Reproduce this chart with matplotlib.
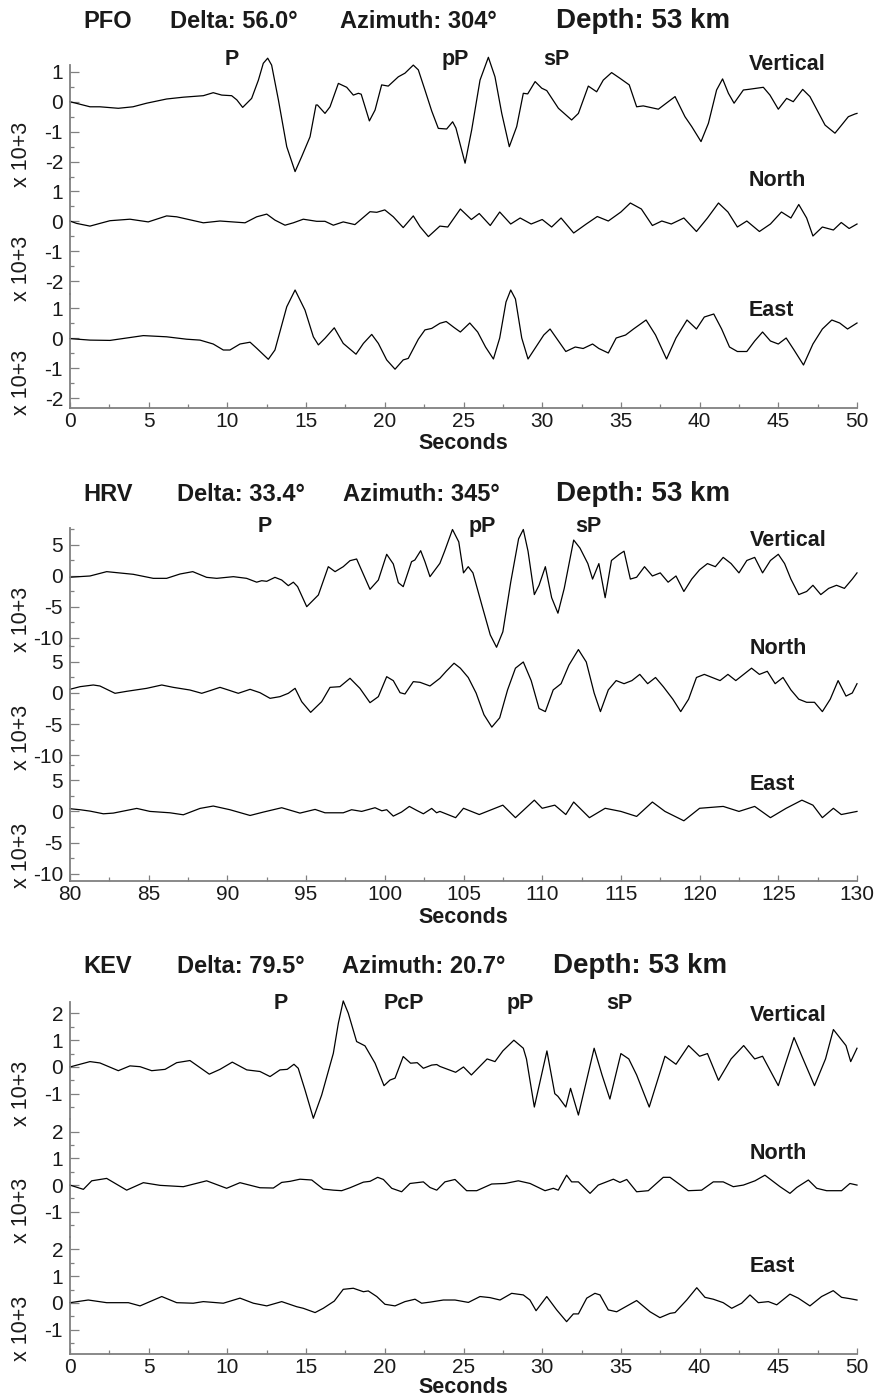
import matplotlib
matplotlib.use("Agg")
import matplotlib.pyplot as plt
import matplotlib.transforms as mtransforms
from matplotlib.ticker import MultipleLocator

plt.rcParams['font.family'] = ['Liberation Sans', 'DejaVu Sans']
plt.rcParams['axes.unicode_minus'] = False

FIG_W, FIG_H = 876, 1399

STATIONS = ["PFO", "HRV", "KEV"]
DELTAS = ["56.0", "33.4", "79.5"]
AZIMUTHS = ["304", "345", "20.7"]
DEPTH_KM = 53
COMPONENTS = ["Vertical", "North", "East"]
X_RANGES = [(0, 50), (80, 130), (0, 50)]
Y_UNITS = ["x 10+3", "x 10+3", "x 10+3"]

PFO_PHASES = ["P", "pP", "sP"]
PFO_PHASE_T = [10.26, 24.5, 30.9]
HRV_PHASES = ["P", "pP", "sP"]
HRV_PHASE_T = [92.4, 106.2, 112.9]
KEV_PHASES = ["P", "PcP", "pP", "sP"]
KEV_PHASE_T = [13.4, 21.2, 28.6, 34.9]

# traces: (seconds, amplitude in units of 10^3)
PFO_Z = [(0, 0.01), (1.27, -0.16), (1.9, -0.16), (3.07, -0.21), (4.0, -0.16),
         (4.87, -0.04), (6.14, 0.1), (7.2, 0.16), (8.47, 0.21), (9.1, 0.31),
         (9.64, 0.23), (10.27, 0.21), (10.6, 0.07), (10.97, -0.18), (11.54, 0.12),
         (11.97, 0.73), (12.28, 1.29), (12.56, 1.46), (12.81, 1.23), (13.24, 0.07),
         (13.77, -1.49), (14.3, -2.32), (14.72, -1.82), (15.25, -1.16), (15.63, -0.1),
         (15.72, -0.1), (16.2, -0.38), (16.52, -0.16), (17.05, 0.62), (17.58, 0.49),
         (18.0, 0.23), (18.32, 0.29), (18.5, 0.26), (19.02, -0.63), (19.38, -0.27),
         (19.8, 0.57), (20.22, 0.53), (20.86, 0.84), (21.28, 0.96), (21.81, 1.23),
         (22.13, 1.07), (22.55, 0.4), (22.98, -0.3), (23.4, -0.88), (23.93, -0.9),
         (24.31, -0.66), (24.52, -0.87), (25.1, -2.04), (25.52, -0.93), (26.05, 0.73),
         (26.58, 1.49), (27.0, 0.84), (27.43, -0.38), (27.91, -1.49), (28.38, -0.82),
         (28.8, 0.29), (29.08, 0.27), (29.55, 0.68), (29.97, 0.46), (30.29, 0.38),
         (31.03, -0.21), (31.87, -0.6), (32.3, -0.38), (32.93, 0.53), (33.46, 0.34),
         (33.88, 0.73), (34.41, 0.98), (34.94, 0.79), (35.53, 0.57), (36.0, -0.16),
         (36.42, -0.13), (37.38, -0.24), (38.01, 0.01), (38.44, 0.18), (39.07, -0.49),
         (39.5, -0.82), (40.09, -1.32), (40.56, -0.71), (41.08, 0.4), (41.46, 0.77),
         (41.83, 0.29), (42.19, -0.04), (42.78, 0.4), (43.1, 0.42), (44.05, 0.49),
         (44.47, 0.23), (45.0, -0.24), (45.53, 0.12), (45.95, 0.01), (46.55, 0.42),
         (47.01, 0.18), (47.97, -0.77), (48.6, -1.04), (49.02, -0.77), (49.45, -0.49),
         (49.87, -0.4), (50.0, -0.38)]
PFO_N = [(0, 0), (0.42, -0.08), (1.27, -0.17), (1.9, -0.08), (2.54, 0.01),
         (3.81, 0.06), (4.97, -0.03), (6.14, 0.17), (6.78, 0.14), (8.47, -0.06),
         (9.53, 0), (10.59, -0.04), (11.12, -0.06), (11.86, 0.14), (12.5, 0.23),
         (13.02, 0.03), (13.66, -0.14), (14.19, -0.06), (14.82, 0.06), (15.67, -0.01),
         (16.2, -0.01), (16.73, -0.14), (17.36, -0.03), (18.1, -0.12), (19.06, 0.31),
         (19.49, 0.29), (20.0, 0.37), (20.54, 0.14), (21.17, -0.22), (21.81, 0.17),
         (22.24, -0.19), (22.77, -0.52), (23.5, -0.17), (24.0, -0.2), (24.8, 0.4),
         (25.5, 0.05), (26.0, 0.25), (26.7, -0.15), (27.3, 0.3), (28.0, -0.1),
         (28.6, 0.1), (29.3, -0.1), (30.0, 0.05), (30.6, -0.2), (31.2, 0.1),
         (32.0, -0.4), (32.8, -0.1), (33.5, 0.15), (34.2, 0.0), (35.0, 0.3),
         (35.6, 0.6), (36.3, 0.4), (37.0, -0.15), (37.6, 0.0), (38.2, -0.1),
         (39.0, 0.1), (39.8, -0.35), (40.5, 0.1), (41.2, 0.6), (41.8, 0.3),
         (42.4, -0.2), (43.0, 0.0), (43.8, -0.35), (44.5, -0.1), (45.2, 0.3),
         (45.8, 0.1), (46.3, 0.55), (46.8, 0.1), (47.2, -0.5), (47.8, -0.2),
         (48.5, -0.3), (49.0, -0.05), (49.5, -0.25), (50.0, -0.1)]
PFO_E = [(0, -0.02), (1.27, -0.07), (2.54, -0.08), (4.66, 0.08), (6.14, 0.04),
         (7.41, -0.04), (8.26, -0.07), (9.1, -0.2), (9.74, -0.4), (10.16, -0.4),
         (10.8, -0.2), (11.44, -0.14), (11.86, -0.34), (12.6, -0.71), (13.02, -0.4),
         (13.77, 1.04), (14.3, 1.6), (14.93, 0.93), (15.46, 0.04), (15.78, -0.23),
         (16.2, -0.01), (16.79, 0.34), (17.36, -0.18), (18.17, -0.54), (18.64, -0.18),
         (19.17, 0.12), (19.59, -0.18), (20.12, -0.73), (20.65, -1.04), (21.17, -0.73),
         (21.49, -0.68), (22.13, -0.04), (22.55, 0.27), (22.98, 0.32), (23.5, 0.49),
         (23.9, 0.55), (24.4, 0.35), (24.8, 0.2), (25.4, 0.5), (25.9, 0.2),
         (26.4, -0.3), (26.9, -0.7), (27.3, 0.0), (27.7, 1.2), (28.0, 1.6),
         (28.3, 1.3), (28.7, 0.0), (29.1, -0.7), (29.6, -0.3), (30.1, 0.1),
         (30.5, 0.3), (30.9, 0.0), (31.5, -0.45), (32.1, -0.3), (32.6, -0.35),
         (33.2, -0.2), (33.6, -0.35), (34.2, -0.5), (34.7, 0.0), (35.3, 0.1),
         (35.8, 0.3), (36.6, 0.6), (37.2, 0.1), (37.9, -0.7), (38.5, 0.0),
         (39.2, 0.6), (39.8, 0.3), (40.3, 0.7), (40.9, 0.8), (41.4, 0.3),
         (41.9, -0.3), (42.4, -0.45), (43.0, -0.45), (43.5, -0.1), (44.0, 0.2),
         (44.5, -0.1), (45.0, -0.2), (45.5, 0.0), (46.0, -0.4), (46.6, -0.9),
         (47.2, -0.2), (47.8, 0.3), (48.4, 0.6), (48.9, 0.5), (49.4, 0.3),
         (50.0, 0.5)]

HRV_Z = [(80, -0.2), (81.27, 0), (82.33, 0.7), (84.02, 0.27), (85.29, -0.38),
         (86.14, -0.38), (86.99, 0.32), (87.8, 0.7), (88.68, -0.22), (89.32, -0.38),
         (90.38, -0.11), (91.22, -0.38), (91.86, -1.0), (92.18, -0.76), (92.5, -0.86),
         (93.02, -0.22), (93.45, -0.65), (93.87, -1.56), (94.19, -1.0), (94.46, -1.72),
         (95.04, -4.95), (95.78, -3.06), (96.41, 1.5), (96.84, 0.7), (97.36, 1.5),
         (97.79, 2.47), (98.21, 2.74), (99.06, -2.15), (99.59, -0.65), (100.12, 3.5),
         (100.54, 1.94), (100.86, -1.08), (101.17, -1.72), (101.7, 2.31), (101.91, 2.58),
         (102.28, 4.08), (102.55, 2.31), (102.87, -0.11), (103.5, 2.04), (103.8, 4.0),
         (104.3, 7.5), (104.7, 5.5), (105.0, 0.5), (105.3, 1.5), (105.6, 0.5),
         (106.2, -5.0), (106.7, -9.5), (107.1, -11.5), (107.5, -9.0), (108.0, -1.0),
         (108.5, 6.0), (108.8, 7.5), (109.1, 4.0), (109.5, -3.0), (109.8, -1.5),
         (110.2, 1.5), (110.6, -3.5), (111.0, -6.0), (111.4, -2.0), (112.0, 5.8),
         (112.4, 4.5), (112.9, 2.0), (113.2, -0.5), (113.6, 2.0), (114.0, -3.5),
         (114.4, 2.5), (114.9, 3.5), (115.2, 4.0), (115.6, -0.5), (116.0, -0.2),
         (116.5, 1.5), (117.0, 0.0), (117.5, 0.5), (118.0, -1.0), (118.5, 0.0),
         (119.0, -2.5), (119.5, -0.5), (120.0, 1.0), (120.5, 2.0), (121.0, 1.5),
         (121.5, 3.0), (122.0, 2.0), (122.5, 0.5), (123.0, 2.5), (123.5, 3.0),
         (124.0, 0.5), (124.5, 2.5), (125.0, 3.5), (125.4, 2.0), (125.8, -0.5),
         (126.3, -3.0), (126.8, -2.5), (127.2, -1.5), (127.7, -3.0), (128.2, -2.0),
         (128.7, -1.5), (129.2, -2.0), (129.7, -0.5), (130.0, 0.5)]
HRV_N = [(80, 0.6), (80.64, 1.02), (81.48, 1.29), (81.9, 1.13), (82.86, -0.05),
         (83.6, 0.27), (84.87, 0.75), (85.83, 1.29), (86.56, 0.91), (87.62, 0.48),
         (88.37, -0.05), (88.9, 0.38), (89.53, 0.91), (90.06, 0.48), (90.69, -0.05),
         (91.44, 0.59), (92.07, 0.05), (92.71, -0.86), (93.34, -0.59), (93.87, -0.05),
         (94.3, 0.75), (94.72, -1.4), (95.29, -3.12), (95.99, -1.4), (96.52, 0.91),
         (97.15, 1.02), (97.79, 2.37), (98.42, 0.75), (99.06, -1.56), (99.59, -0.59),
         (100.12, 2.63), (100.54, 1.99), (100.97, 0.05), (101.28, -0.16), (101.81, 1.83),
         (102.24, 1.72), (102.87, 1.13), (103.5, 2.37), (103.9, 3.5), (104.4, 4.8),
         (104.8, 4.0), (105.3, 2.5), (105.8, 0.0), (106.3, -3.5), (106.8, -5.5),
         (107.3, -4.0), (107.8, 0.5), (108.3, 4.0), (108.8, 5.0), (109.3, 2.0),
         (109.8, -2.5), (110.2, -3.0), (110.7, 0.5), (111.2, 1.5), (111.7, 4.5),
         (112.3, 7.0), (112.8, 5.0), (113.3, 0.0), (113.7, -3.0), (114.2, 0.5),
         (114.7, 2.0), (115.2, 1.5), (115.7, 2.0), (116.2, 3.0), (116.7, 1.5),
         (117.2, 2.5), (117.7, 1.0), (118.3, -1.0), (118.8, -3.0), (119.3, -1.0),
         (119.8, 2.5), (120.3, 3.0), (120.8, 2.5), (121.3, 2.0), (121.8, 3.0),
         (122.3, 2.0), (122.8, 3.0), (123.3, 4.0), (123.8, 3.0), (124.3, 3.5),
         (124.8, 1.5), (125.3, 2.5), (125.8, 0.5), (126.3, -1.0), (126.8, -1.5),
         (127.3, -1.5), (127.8, -3.0), (128.3, -1.0), (128.8, 2.0), (129.3, -0.5),
         (129.7, 0.0), (130.0, 1.5)]
HRV_E = [(80, 0.43), (80.64, 0.27), (81.27, 0.05), (82.12, -0.38), (82.75, -0.27),
         (84.24, 0.48), (85.08, 0), (86.35, -0.22), (87.2, -0.54), (88.26, 0.48),
         (89.1, 0.86), (90.16, 0.27), (91.44, -0.65), (92.28, -0.11), (93.45, 0.59),
         (94.61, -0.27), (95.57, 0.32), (96.2, -0.22), (97.36, -0.22), (97.89, 0.27),
         (98.53, 0), (99.38, 0.59), (99.81, 0.1), (100.12, 0.27), (100.54, -0.75),
         (101.06, -0.11), (101.56, 0.8), (102.03, 0.16), (102.45, -0.38), (102.98, 0.48),
         (103.29, -0.22), (103.5, 0), (104.5, -1.0), (105.0, 0.5), (106.0, -0.5),
         (107.5, 1.0), (108.3, -1.0), (109.5, 1.8), (110.0, 0.5), (110.8, 1.0),
         (111.5, -0.5), (112.0, 1.5), (113.0, -1.0), (114.0, 0.5), (115.0, 0.0),
         (116.0, -0.8), (117.0, 1.5), (117.8, 0.0), (119.0, -1.5), (120.0, 0.5),
         (121.5, 0.8), (122.5, 0.0), (123.5, 0.8), (124.5, -1.0), (125.5, 0.5),
         (126.5, 1.8), (127.2, 1.0), (127.8, -1.0), (128.5, 0.5), (129.0, -0.5),
         (130.0, 0.0)]

KEV_Z = [(0, 0), (1.27, 0.2), (1.9, 0.15), (3.07, -0.14), (3.81, 0.04),
         (4.45, 0.01), (5.19, -0.14), (6.04, -0.09), (6.78, 0.16), (7.62, 0.24),
         (8.85, -0.27), (9.53, -0.09), (10.31, 0.18), (11.23, -0.11), (12.07, -0.17),
         (12.71, -0.36), (13.34, -0.11), (13.8, -0.09), (14.23, 0.1), (14.5, -0.05),
         (14.93, -0.86), (15.46, -1.92), (15.99, -1.05), (16.73, 0.51), (17.05, 1.64),
         (17.36, 2.47), (17.68, 2.01), (18.21, 0.95), (18.74, 0.79), (19.38, 0.14),
         (19.95, -0.7), (20.33, -0.49), (20.65, -0.42), (21.17, 0.39), (21.64, 0.14),
         (22.06, 0.16), (22.45, -0.05), (22.98, 0.07), (23.3, 0.09), (23.5, 0.02),
         (24.5, -0.2), (25.0, 0.0), (25.5, -0.3), (26.5, 0.3), (27.0, 0.2),
         (27.5, 0.6), (28.2, 1.0), (28.8, 0.7), (29.0, 0.3), (29.5, -1.5),
         (30.3, 0.6), (30.8, -1.0), (31.0, -1.1), (31.5, -1.5), (31.8, -0.8),
         (32.3, -1.8), (33.3, 0.7), (33.8, -0.3), (34.3, -1.2), (35.0, 0.5),
         (35.5, 0.3), (36.0, -0.3), (36.8, -1.5), (37.8, 0.4), (38.5, 0.1),
         (39.3, 0.8), (40.0, 0.4), (40.5, 0.5), (41.2, -0.5), (42.0, 0.3),
         (42.8, 0.8), (43.5, 0.3), (44.0, 0.4), (45.0, -0.7), (46.0, 1.1),
         (46.5, 0.4), (47.3, -0.7), (48.0, 0.3), (48.5, 1.4), (49.3, 0.8),
         (49.6, 0.2), (50.0, 0.7)]
KEV_N = [(0, 0), (0.85, -0.16), (1.38, 0.16), (2.33, 0.25), (3.6, -0.19),
         (4.66, 0.09), (5.72, -0.01), (7.2, -0.06), (8.68, 0.16), (9.95, -0.12),
         (10.8, 0.09), (12.07, -0.1), (12.92, -0.11), (13.45, 0.1), (13.98, 0.14),
         (14.61, 0.22), (15.36, 0.19), (16.09, -0.15), (16.73, -0.19), (17.26, -0.21),
         (17.79, -0.1), (18.64, 0.11), (19.06, 0.14), (19.55, 0.29), (19.91, 0.21),
         (20.44, -0.12), (21.07, -0.25), (21.6, 0.06), (22.03, 0.09), (22.45, 0.12),
         (22.87, -0.09), (23.3, -0.19), (23.82, 0.12), (24.46, 0.21), (25.2, -0.21),
         (25.84, -0.21), (26.79, 0.04), (27.64, 0.06), (28.48, 0.16), (29.23, 0.06),
         (30.18, -0.21), (30.71, -0.12), (31.02, -0.19), (31.55, 0.37), (31.87, 0.12),
         (32.3, 0.12), (33.04, -0.31), (33.56, 0), (34.52, 0.22), (34.94, 0.1),
         (35.37, 0.21), (36.0, -0.25), (36.74, -0.21), (37.69, 0.29), (38.12, 0.29),
         (39.28, -0.21), (40.13, -0.19), (40.87, 0.12), (41.5, 0.12), (42.14, -0.06),
         (42.78, 0), (43.52, 0.16), (44.15, 0.37), (45.11, -0.06), (45.74, -0.31),
         (46.17, -0.09), (46.91, 0.19), (47.44, -0.12), (48.07, -0.21), (49.02, -0.21),
         (49.55, 0.06), (50.0, 0)]
KEV_E = [(0, 0.01), (1.16, 0.11), (2.33, 0.01), (3.71, 0.01), (4.45, -0.11),
         (5.08, 0.05), (5.83, 0.24), (6.78, 0.01), (7.83, -0.01), (8.47, 0.05),
         (9.74, -0.01), (10.8, 0.18), (11.65, -0.01), (12.5, -0.11), (13.45, 0.05),
         (14.4, -0.14), (14.82, -0.2), (15.57, -0.36), (16.09, -0.2), (16.79, 0.07),
         (17.36, 0.51), (18.0, 0.55), (18.64, 0.42), (18.95, 0.45), (19.49, 0.24),
         (20.01, -0.05), (20.65, -0.11), (21.28, 0.05), (21.92, 0.14), (22.34, -0.01),
         (22.87, 0.03), (23.72, 0.11), (24.46, 0.11), (25.31, 0.02), (26.05, 0.24),
         (26.68, 0.2), (27.32, 0.11), (28.06, 0.36), (28.8, 0.3), (29.22, 0.11),
         (29.61, -0.29), (30.29, 0.24), (30.92, -0.26), (31.55, -0.7), (31.98, -0.41),
         (32.3, -0.41), (32.83, 0.18), (33.35, 0.36), (33.67, 0.3), (34.2, -0.26),
         (34.73, -0.33), (36.0, 0.09), (36.85, -0.33), (37.48, -0.55), (38.12, -0.39),
         (38.44, -0.36), (39.18, 0.11), (39.82, 0.57), (40.34, 0.21), (40.87, 0.14),
         (41.5, 0.01), (42.04, -0.2), (42.67, -0.01), (43.2, 0.3), (43.73, 0.01),
         (44.37, 0.05), (44.9, -0.07), (45.74, 0.33), (46.27, 0.18), (47.01, -0.11),
         (47.75, 0.24), (48.49, 0.46), (49.02, 0.21), (49.55, 0.16), (50.0, 0.11)]

TRACES = [[PFO_Z, PFO_N, PFO_E], [HRV_Z, HRV_N, HRV_E], [KEV_Z, KEV_N, KEV_E]]
PHASES = [(PFO_PHASES, PFO_PHASE_T), (HRV_PHASES, HRV_PHASE_T), (KEV_PHASES, KEV_PHASE_T)]

# layout (pixels of the 876x1399 figure)
AX_LEFT, AX_RIGHT = 70, 857
PANEL_TOP = [65, 528, 1002]
PANEL_BOTTOM = [408, 881, 1354]
YLIMS = [[(-2.578, 1.233), (-2.422, 1.389), (-2.333, 1.478)],
         [(-11.24, 7.74), (-11.34, 7.63), (-11.13, 7.69)],
         [(-1.96, 2.43), (-1.93, 2.46), (-1.91, 2.48)]]
MAJOR = [1, 5, 1]
TITLE_BASE = [28, 501, 973]
TITLE_X = [[83, 170, 340, 556], [83, 177, 343, 556], [83, 177, 342, 553]]
PHASE_Y = [1.044, 1.01, 0.99]
COMP_X = [43.1, 123.2, 43.2]
COMP_Y = [[1.0, 0.986, 0.857], [0.898, 0.98, 0.816], [0.889, 0.713, 0.75]]
XLABEL_BASE = [449, 923, 1393]

TEXT_C = '#1a1a1a'
AXIS_C = '#808080'

fig = plt.figure(figsize=(FIG_W / 100, FIG_H / 100), dpi=100)


def fx(x):
    return x / FIG_W


def fy(y):
    return 1 - y / FIG_H


for p in range(3):
    top, bottom = PANEL_TOP[p], PANEL_BOTTOM[p]
    h = (bottom - top) / 3.0
    xmin, xmax = X_RANGES[p]
    axes = []
    for k in range(3):
        ax_top = top + k * h
        ax = fig.add_axes([fx(AX_LEFT), fy(ax_top + h), fx(AX_RIGHT - AX_LEFT), h / FIG_H])
        t = [pt[0] for pt in TRACES[p][k]]
        a = [pt[1] for pt in TRACES[p][k]]
        ax.plot(t, a, color='black', lw=0.9, clip_on=False)
        ax.set_xlim(xmin, xmax)
        ax.set_ylim(*YLIMS[p][k])
        ax.patch.set_visible(False)
        for side in ['top', 'right']:
            ax.spines[side].set_visible(False)
        ax.spines['left'].set_color(AXIS_C)
        ax.spines['left'].set_linewidth(1.3)
        ax.yaxis.set_major_locator(MultipleLocator(MAJOR[p]))
        ax.yaxis.set_minor_locator(MultipleLocator(MAJOR[p] / 2.0))
        ax.xaxis.set_major_locator(MultipleLocator(5))
        ax.xaxis.set_minor_locator(MultipleLocator(2.5))
        ax.tick_params(axis='y', which='both', direction='in', colors=AXIS_C,
                       labelcolor=TEXT_C, labelsize=15, pad=5)
        ax.tick_params(axis='y', which='major', length=6.5, width=0.9)
        ax.tick_params(axis='y', which='minor', length=3, width=0.9)
        if k < 2:
            ax.spines['bottom'].set_visible(False)
            ax.tick_params(axis='x', which='both', bottom=False, labelbottom=False)
        else:
            ax.spines['bottom'].set_color(AXIS_C)
            ax.spines['bottom'].set_linewidth(1.3)
            ax.tick_params(axis='x', which='both', direction='in', colors=AXIS_C,
                           labelcolor=TEXT_C, labelsize=15, pad=3)
            ax.tick_params(axis='x', which='major', length=4.5, width=0.9)
            ax.tick_params(axis='x', which='minor', length=3, width=0.9)
        ax.text(-0.061, 0.22, Y_UNITS[p], rotation=90, ha='center', va='center',
                fontsize=15.5, color=TEXT_C, transform=ax.transAxes)
        ax.text(COMP_X[p], COMP_Y[p][k], COMPONENTS[k], fontsize=15.5,
                fontweight='bold', color=TEXT_C, ha='left', va='center',
                transform=mtransforms.blended_transform_factory(ax.transData, ax.transAxes))
        axes.append(ax)

    names, times = PHASES[p]
    trans = mtransforms.blended_transform_factory(axes[0].transData, axes[0].transAxes)
    for name, tt in zip(names, times):
        axes[0].text(tt, PHASE_Y[p], name, fontsize=15.5, fontweight='bold',
                     color=TEXT_C, ha='center', va='center', transform=trans)

    tx = TITLE_X[p]
    yb = fy(TITLE_BASE[p])
    fig.text(fx(tx[0]), yb, STATIONS[p], fontsize=17, fontweight='bold', color=TEXT_C,
             va='baseline')
    fig.text(fx(tx[1]), yb, "Delta: %s\u00b0" % DELTAS[p], fontsize=17,
             fontweight='bold', color=TEXT_C, va='baseline')
    fig.text(fx(tx[2]), yb, "Azimuth: %s\u00b0" % AZIMUTHS[p], fontsize=17,
             fontweight='bold', color=TEXT_C, va='baseline')
    fig.text(fx(tx[3]), yb, "Depth: %d km" % DEPTH_KM, fontsize=20,
             fontweight='bold', color=TEXT_C, va='baseline')

    fig.text(fx((AX_LEFT + AX_RIGHT) / 2.0), fy(XLABEL_BASE[p]), "Seconds",
             fontsize=15.5, fontweight='bold', color=TEXT_C, ha='center', va='baseline')

fig.savefig("out.png", dpi=100)
